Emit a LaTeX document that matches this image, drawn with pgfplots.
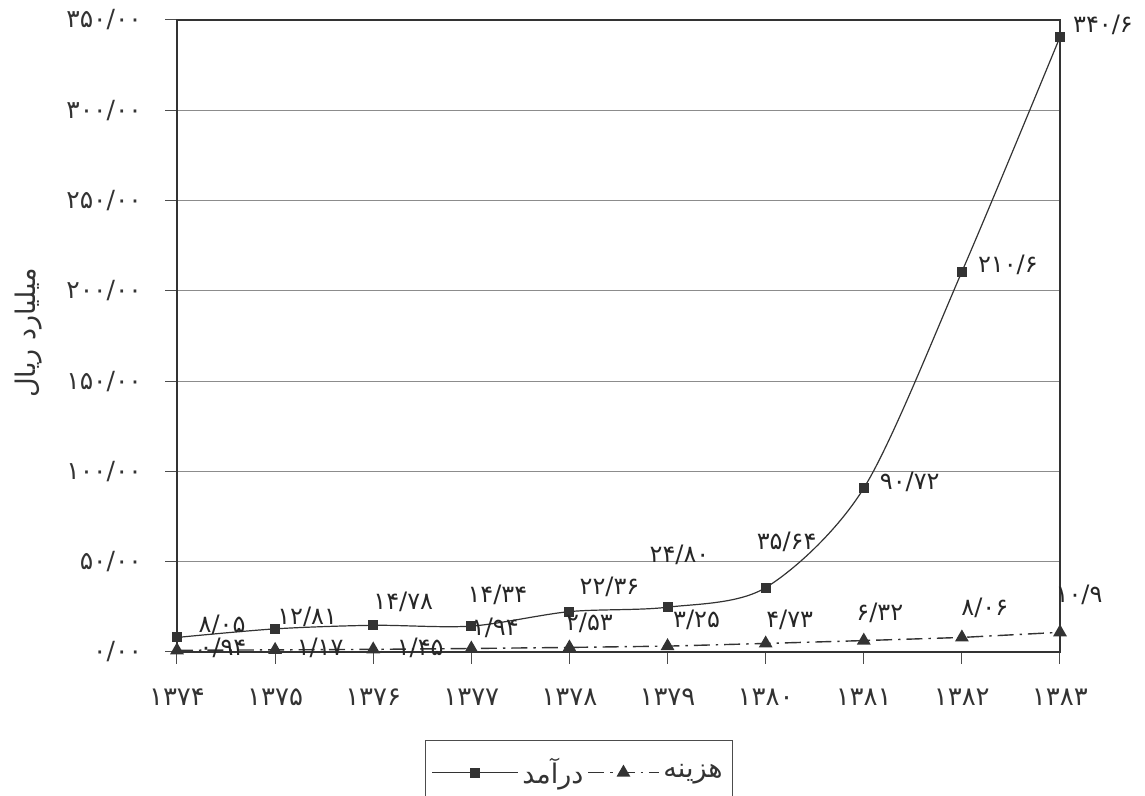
\documentclass[border=0pt]{standalone}
\usepackage{fontspec}
\setmainfont{DejaVu Sans}
\newfontfamily\fa[Script=Arabic]{DejaVu Sans}
\TeXXeTstate=1
\usepackage{pgfplots}
\usepackage{pgfplotstable}
\pgfplotsset{compat=1.18}
\pgfplotsset{
  longleg/.style={legend image code/.code={\draw[mark repeat=2,mark phase=2,##1] plot coordinates {(0cm,0cm) (0.75cm,0cm) (1.5cm,0cm)};}},
  shortleg/.style={legend image code/.code={\draw[mark repeat=2,mark phase=2,##1] plot coordinates {(0cm,0cm) (0.62cm,0cm) (1.24cm,0cm)};}},
}

% revenue (income): x y
\pgfplotstableread{
x y
1374 8.05
1375 12.81
1376 14.78
1377 14.34
1378 22.36
1379 24.80
1380 35.64
1381 90.72
1382 210.6
1383 340.6
}\rev
% revenue labels: position and text
\pgfplotstableread{
lx ly lab
1374.459 14.92 ۸/۰۵
1375.326 19.46 ۱۲/۸۱
1376.306 27.63 ۱۴/۷۸
1377.265 31.51 ۱۴/۳۴
1378.408 35.98 ۲۲/۳۶
1379.122 53.60 ۲۴/۸۰
1380.214 60.89 ۳۵/۶۴
1381.469 94.04 ۹۰/۷۲
1382.469 214.25 ۲۱۰/۶
1383.438 347.25 ۳۴۰/۶
}\revlab

% cost: x y
\pgfplotstableread{
x y
1374 0.94
1375 1.17
1376 1.45
1377 1.94
1378 2.53
1379 3.25
1380 4.73
1381 6.32
1382 8.06
1383 10.9
}\cost
\pgfplotstableread{
lx ly lab
1374.469 2.27 ۰/۹۴
1375.459 2.28 ۱/۱۷
1376.479 2.23 ۱/۴۵
1377.245 13.24 ۱/۹۴
1378.204 16.04 ۲/۵۳
1379.296 17.65 ۳/۲۵
1380.245 17.69 ۴/۷۳
1381.163 21.61 ۶/۳۲
1382.234 24.34 ۸/۰۶
1383.194 31.50 ۱۰/۹
}\costlab

\begin{document}
\begin{tikzpicture}
\useasboundingbox (0,0) rectangle (572.5pt,398pt);
\clip (0,0) rectangle (572.5pt,398pt);
\begin{axis}[
  at={(88.5pt,72pt)}, anchor=south west,
  scale only axis, width=441.5pt, height=316pt,
  xmin=1374, xmax=1383, ymin=0, ymax=350,
  clip=false,
  xtick={1374,...,1383},
  xticklabels={۱۳۷۴,۱۳۷۵,۱۳۷۶,۱۳۷۷,۱۳۷۸,۱۳۷۹,۱۳۸۰,۱۳۸۱,۱۳۸۲,۱۳۸۳},
  ytick={0,50,...,350},
  yticklabels={۰/۰۰,۵۰/۰۰,۱۰۰/۰۰,۱۵۰/۰۰,۲۰۰/۰۰,۲۵۰/۰۰,۳۰۰/۰۰,۳۵۰/۰۰},
  xtick pos=bottom, ytick pos=left,
  tick align=outside,
  major tick length=6pt,
  tick style={black!70, line width=0.5pt},
  ymajorgrids,
  grid style={black!45, line width=0.5pt},
  axis line style={black!80, line width=1.3pt},
  ticklabel style={text=black!80},
  xticklabel style={yshift=-9pt, font=\fa\fontsize{13}{15}\selectfont},
  yticklabel style={xshift=-8pt, font=\fa\fontsize{12.5}{14}\selectfont},
  ylabel={\fa\beginR میلیارد ریال\endR},
  ylabel style={at={(axis description cs:-0.168,0.505)}, anchor=center, font=\fontsize{13.5}{15}\selectfont, text=black!80},
  legend columns=2,
  legend style={at={(axis description cs:0.281,-0.139)}, anchor=north west,
    draw=black!70, line width=0.6pt, inner xsep=3pt, inner ysep=7pt,
    font=\fa\fontsize{13.5}{16}\selectfont, text=black!80,
    /tikz/every even column/.append style={column sep=0pt}},
  legend cell align=left,
  label nodes/.style={draw=none, mark=none, forget plot,
    nodes near coords, point meta=explicit symbolic,
    every node near coord/.append style={anchor=center, inner sep=0pt,
      font=\fa\fontsize{12}{14}\selectfont, text=black!85}},
]
\addplot[black!80, line width=0.6pt, smooth,
  mark=square*, mark size=2.2pt, mark options={solid, fill=black!80}, longleg
] table[x=x, y=y] {\rev};
\addlegendentry{\beginR درآمد\endR}
\addplot[black!80, line width=0.7pt, dash pattern=on 8pt off 3pt on 1.2pt off 3pt,
  mark=triangle*, mark size=3.3pt, mark options={solid, fill=black!80}, shortleg
] table[x=x, y=y] {\cost};
\addlegendentry{\beginR هزینه\endR}
\addplot[label nodes] table[x=lx, y=ly, meta=lab] {\revlab};
\addplot[label nodes] table[x=lx, y=ly, meta=lab] {\costlab};
\end{axis}
\end{tikzpicture}
\end{document}
